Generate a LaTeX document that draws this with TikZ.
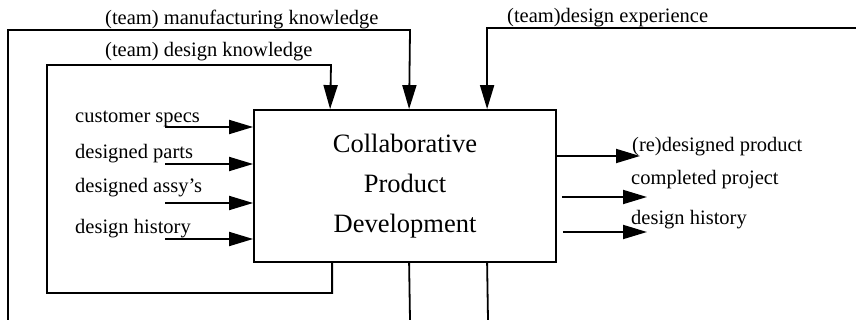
\documentclass[tikz,border=0pt]{standalone}
\usepackage{fontspec}
\setmainfont{Liberation Serif}
\usetikzlibrary{arrows.meta}
\tikzstyle{process} = [rectangle, minimum width=302pt, minimum height=152pt, align=center, draw=black, line width=1.8pt, font=\fontsize{26.5}{40}\selectfont]
\tikzstyle{flow} = [anchor=base west, inner sep=0pt, font=\fontsize{20.5}{24}\selectfont]
\tikzstyle{arrow} = [line width=1.8pt,-{Triangle[length=24pt,width=14pt]}]
\tikzstyle{loop} = [line width=1.8pt]

\begin{document}
\begin{tikzpicture}[x=1pt,y=-1pt]
	\useasboundingbox (0,0) rectangle (856,320);
	\node (cpd) [process] at (405,186) {Collaborative\\Product\\Development};
	% inputs
	\node (spec) [flow] at (75,123) {customer specs};
	\node (parts) [flow] at (75,159) {designed parts};
	\node (assy) [flow] at (75,193) {designed assy's};
	\node (histin) [flow] at (75,234) {design history};
	\coordinate (specin) at (165,127);
	\coordinate (partsin) at (165,164);
	\coordinate (assyin) at (165,203);
	\coordinate (histinfrom) at (165,239);
	\draw [arrow] (specin) -- (specin -| cpd.west);
	\draw [arrow] (partsin) -- (partsin -| cpd.west);
	\draw [arrow] (assyin) -- (assyin -| cpd.west);
	\draw [arrow] (histinfrom) -- (histinfrom -| cpd.west);
	% outputs
	\node (prod) [flow] at (632,152) {(re)designed product};
	\node (proj) [flow] at (631,185) {completed project};
	\node (histout) [flow] at (631,225) {design history};
	\coordinate (prodout) at (640,156);
	\coordinate (projout) at (647,197);
	\coordinate (histoutto) at (647,232);
	\draw [arrow] (cpd.east |- prodout) -- (prodout);
	\draw [arrow] ([xshift=5pt]cpd.east |- projout) -- (projout);
	\draw [arrow] ([xshift=6pt]cpd.east |- histoutto) -- (histoutto);
	% feedback loops
	\node (mk) [flow] at (105,25) {(team) manufacturing knowledge};
	\node (dk) [flow] at (105,57) {(team) design knowledge};
	\node (de) [flow] at (507,23) {(team)design experience};
	\draw [arrow] ([xshift=79pt]cpd.south west) |- (47,293) |- (331,65) -- ([xshift=77pt]cpd.north west);
	\coordinate (mkbot) at (410,320);
	\coordinate (mkleft) at (8,320);
	\draw [loop] ([xshift=156pt]cpd.south west) -- (mkbot);
	\draw [arrow] (mkleft) |- (410,30) -- ([xshift=156pt]cpd.north west);
	\coordinate (debot) at (488,320);
	\coordinate (deright) at (856,28);
	\draw [loop] ([xshift=234pt]cpd.south west) -- (debot);
	\draw [arrow] (deright) -| ([xshift=234pt]cpd.north west);
\end{tikzpicture}
\end{document}
